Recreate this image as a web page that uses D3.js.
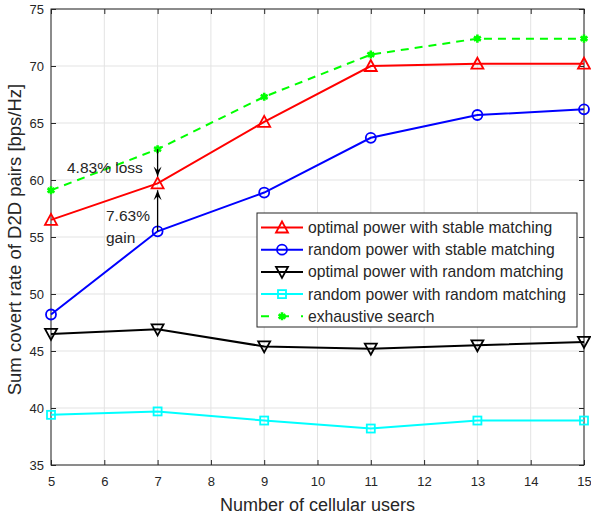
<!DOCTYPE html>
<html>
<head>
<meta charset="utf-8">
<script src="https://cdn.jsdelivr.net/npm/d3@7"></script>
<style>
  body { margin: 0; background: #fff; }
  text { font-family: "Liberation Sans", Arial, Helvetica, sans-serif; fill: #262626; }
</style>
</head>
<body>
<div id="chart"></div>
<script>
// data
var users = [5, 7, 9, 11, 13, 15];
var optimalStable = [56.5, 59.7, 65.1, 70.0, 70.2, 70.2];
var randomStable = [48.2, 55.5, 58.9, 63.7, 65.7, 66.2];
var optimalRandom = [46.5, 46.9, 45.4, 45.2, 45.5, 45.8];
var randomRandom = [39.4, 39.7, 38.9, 38.2, 38.9, 38.9];
var exhaustive = [59.1, 62.7, 67.3, 71.0, 72.4, 72.4];

var xTicks = [5, 6, 7, 8, 9, 10, 11, 12, 13, 14, 15];
var yTicks = [35, 40, 45, 50, 55, 60, 65, 70, 75];

var seriesNames = ["optimal power with stable matching", "random power with stable matching",
  "optimal power with random matching", "random power with random matching", "exhaustive search"];
var seriesValues = [optimalStable, randomStable, optimalRandom, randomRandom, exhaustive];
var seriesColors = ["#ff0000", "#0000ff", "#000000", "#00ffff", "#00ff00"];
var seriesMarkers = ["triUp", "circle", "triDown", "square", "star"];

// annotation arrows (x value, from y, to y)
var arrows = [{x: 7, y0: 62.7, y1: 60.3}, {x: 7, y0: 55.5, y1: 59.1}];

var W = 591, H = 519;
var margin = {top: 9, right: 7, bottom: 54, left: 51};
var width = W - margin.left - margin.right,
    height = H - margin.top - margin.bottom;

var x = d3.scaleLinear().domain([5, 15]).range([0, width]);
var y = d3.scaleLinear().domain([35, 75]).range([height, 0]);

var svg = d3.select("#chart").append("svg")
    .attr("width", W)
    .attr("height", H);
var g = svg.append("g")
    .attr("transform", "translate(" + margin.left + "," + margin.top + ")");

// grid
g.selectAll(".gx").data(xTicks).enter().append("line")
    .attr("x1", function(d) { return x(d); }).attr("x2", function(d) { return x(d); })
    .attr("y1", 0).attr("y2", height)
    .attr("stroke", "#e3e3e3").attr("stroke-width", 1);
g.selectAll(".gy").data(yTicks).enter().append("line")
    .attr("y1", function(d) { return y(d); }).attr("y2", function(d) { return y(d); })
    .attr("x1", 0).attr("x2", width)
    .attr("stroke", "#e3e3e3").attr("stroke-width", 1);

// axes, matlab style ticks pointing in
var tl = 5;
g.append("g")
    .attr("transform", "translate(0," + height + ")")
    .call(d3.axisBottom(x).tickValues(xTicks).tickSize(-tl).tickPadding(12).tickSizeOuter(0))
    .call(function(a) { a.select(".domain").remove(); });
g.append("g")
    .call(d3.axisTop(x).tickValues(xTicks).tickSize(-tl).tickFormat("").tickSizeOuter(0))
    .call(function(a) { a.select(".domain").remove(); });
g.append("g")
    .call(d3.axisLeft(y).tickValues(yTicks).tickSize(-tl).tickPadding(7).tickSizeOuter(0))
    .call(function(a) { a.select(".domain").remove(); });
g.append("g")
    .attr("transform", "translate(" + width + ",0)")
    .call(d3.axisRight(y).tickValues(yTicks).tickSize(-tl).tickFormat("").tickSizeOuter(0))
    .call(function(a) { a.select(".domain").remove(); });
g.selectAll(".tick line").attr("stroke", "#262626");
g.selectAll(".tick text").style("font-size", "13px")
    .style("font-family", "'Liberation Sans', Arial, sans-serif").attr("fill", "#262626");

g.append("rect")
    .attr("width", width).attr("height", height)
    .attr("fill", "none").attr("stroke", "#262626").attr("stroke-width", 1);

// markers
function drawMarker(sel, type, color) {
  if (type == "circle") {
    sel.append("circle").attr("r", 5).attr("fill", "none").attr("stroke", color).attr("stroke-width", 1.8);
  } else if (type == "square") {
    sel.append("rect").attr("x", -4).attr("y", -4).attr("width", 8).attr("height", 8)
      .attr("fill", "none").attr("stroke", color).attr("stroke-width", 1.8);
  } else if (type == "triUp") {
    sel.append("path").attr("d", "M0,-6L6,5L-6,5Z").attr("fill", "none").attr("stroke", color).attr("stroke-width", 1.8);
  } else if (type == "triDown") {
    sel.append("path").attr("d", "M0,6L6,-5L-6,-5Z").attr("fill", "none").attr("stroke", color).attr("stroke-width", 1.8);
  } else if (type == "star") {
    sel.append("path").attr("d", d3.symbol().type(d3.symbolAsterisk).size(45))
      .attr("fill", "none").attr("stroke", color).attr("stroke-width", 2.6);
    sel.append("circle").attr("r", 2.5).attr("fill", color);
  }
}

var line = d3.line()
    .x(function(d, i) { return x(users[i]); })
    .y(function(d) { return y(d); });

seriesValues.forEach(function(vals, k) {
  g.append("path")
      .datum(vals)
      .attr("d", line)
      .attr("fill", "none")
      .attr("stroke", seriesColors[k])
      .attr("stroke-width", 2)
      .attr("stroke-dasharray", k == 4 ? "8,6" : null);
  vals.forEach(function(v, i) {
    var m = g.append("g").attr("transform", "translate(" + x(users[i]) + "," + y(v) + ")");
    drawMarker(m, seriesMarkers[k], seriesColors[k]);
  });
});

// arrows
arrows.forEach(function(a) {
  var px = x(a.x), p0 = y(a.y0), p1 = y(a.y1);
  var dir = p1 > p0 ? 1 : -1;
  g.append("line")
      .attr("x1", px).attr("x2", px).attr("y1", p0).attr("y2", p1)
      .attr("stroke", "#000").attr("stroke-width", 1.3);
  g.append("path")
      .attr("d", "M" + px + "," + p1 +
        "L" + (px - 4) + "," + (p1 - dir * 10) +
        "L" + px + "," + (p1 - dir * 6) +
        "L" + (px + 4) + "," + (p1 - dir * 10) + "Z")
      .attr("fill", "#000");
});

svg.append("text").attr("x", 67).attr("y", 173).style("font-size", "15.5px").attr("fill", "#000").text("4.83% loss");
svg.append("text").attr("x", 106).attr("y", 221).style("font-size", "15.5px").attr("fill", "#000").text("7.63%");
svg.append("text").attr("x", 106).attr("y", 243).style("font-size", "15.5px").attr("fill", "#000").text("gain");

// legend
var legend = svg.append("g").attr("transform", "translate(257,213)");
legend.append("rect")
    .attr("width", 320).attr("height", 114)
    .attr("fill", "#fff").attr("stroke", "#262626").attr("stroke-width", 1);
seriesNames.forEach(function(name, k) {
  var row = legend.append("g").attr("transform", "translate(0," + (14.5 + k * 22.2) + ")");
  row.append("line")
      .attr("x1", 4).attr("x2", 46)
      .attr("stroke", seriesColors[k]).attr("stroke-width", 2)
      .attr("stroke-dasharray", k == 4 ? "8,12" : null);
  var m = row.append("g").attr("transform", "translate(25,0)");
  drawMarker(m, seriesMarkers[k], seriesColors[k]);
  row.append("text")
      .attr("x", 51).attr("dy", "0.35em")
      .style("font-size", "15.7px")
      .attr("fill", "#000")
      .text(name);
});

// axis labels
svg.append("text")
    .attr("x", margin.left + width / 2)
    .attr("y", 511)
    .attr("text-anchor", "middle")
    .style("font-size", "18px")
    .text("Number of cellular users");

svg.append("text")
    .attr("transform", "rotate(-90)")
    .attr("x", -239.5)
    .attr("y", 20.5)
    .attr("text-anchor", "middle")
    .style("font-size", "18.5px")
    .text("Sum covert rate of D2D pairs [bps/Hz]");
</script>
</body>
</html>
